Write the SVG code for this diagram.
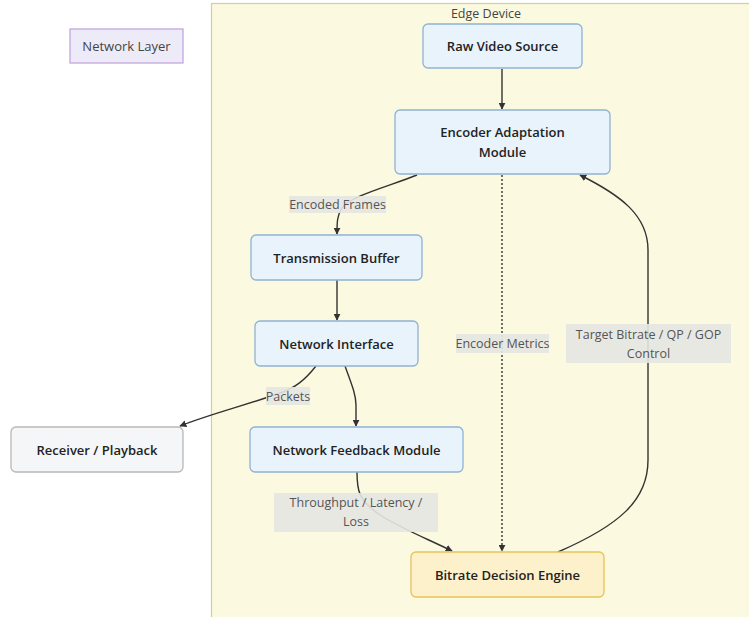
<svg xmlns="http://www.w3.org/2000/svg" width="749" height="617" viewBox="0 0 749 617">
<defs>
<marker id="arr" viewBox="0 0 10 10" refX="9" refY="5" markerWidth="7" markerHeight="7" orient="auto-start-reverse" markerUnits="userSpaceOnUse">
<path d="M0,0 L10,5 L0,10 z" fill="#333"/>
</marker>
<style>
.node rect{fill:#e8f3fc;stroke:#8fb3d3;stroke-width:1.3}
.nt{font-family:"Open Sans","Noto Sans",sans-serif;font-size:13px;font-weight:600;fill:#222;text-anchor:middle;dominant-baseline:central}
.lt{font-family:"Open Sans","Noto Sans",sans-serif;font-size:12.5px;fill:#555;text-anchor:middle;dominant-baseline:central}
.lb{fill:#e6e6e2;opacity:0.9}
.edge{fill:none;stroke:#333;stroke-width:1.4}
</style>
</defs>
<rect width="749" height="617" fill="#ffffff"/>
<g id="cluster-edge-device">
<rect x="211.5" y="3.5" width="560" height="640" fill="#fbf9e0" stroke="#d6d28a" stroke-width="1.2"/>
<text class="lt" x="486" y="13" style="fill:#444">Edge Device</text>
</g>
<g id="network-layer">
<rect x="70" y="29" width="113" height="34" fill="#eeebf8" stroke="#c4a6dc" stroke-width="1.3"/>
<text class="lt" x="126.5" y="46" style="fill:#444;font-size:13px">Network Layer</text>
</g>
<g id="connectors">
<path class="edge" d="M502,69 L502,109" marker-end="url(#arr)"/>
<path class="edge" d="M417,175 C390,186 350,196 342,208 C337,216 337,222 337,234" marker-end="url(#arr)"/>
<path class="edge" d="M337,280 L337,320" marker-end="url(#arr)"/>
<path class="edge" d="M316,366 C305,380 295,388 280,393 C250,404 210,414 180,426" marker-end="url(#arr)"/>
<path class="edge" d="M345,366 C352,385 356,395 356,405 L356,426" marker-end="url(#arr)"/>
<path class="edge" d="M357,472 C357,490 358,500 380,515 C400,528 430,540 452,551" marker-end="url(#arr)"/>
<path class="edge" d="M502,175 L502,551" stroke-dasharray="2,2" marker-end="url(#arr)"/>
<path class="edge" d="M558,552 C620,525 648,500 648,460 L648,250 C648,215 620,195 580,175" marker-end="url(#arr)"/>
<rect class="lb" x="289" y="196" width="97" height="17"/>
<text class="lt" x="337.5" y="204.5">Encoded Frames</text>
<rect class="lb" x="266" y="387" width="44" height="18"/>
<text class="lt" x="288" y="396">Packets</text>
<rect class="lb" x="456" y="334" width="93" height="19"/>
<text class="lt" x="502.5" y="343.5">Encoder Metrics</text>
<rect class="lb" x="566" y="324" width="165" height="39"/>
<text class="lt" x="648.5" y="334">Target Bitrate / QP / GOP</text>
<text class="lt" x="648.5" y="353">Control</text>
<rect class="lb" x="274" y="493" width="164" height="39"/>
<text class="lt" x="356" y="502">Throughput / Latency /</text>
<text class="lt" x="356" y="521">Loss</text>
</g>
<g id="raw-video-source" class="node">
<rect x="423" y="24" width="159" height="44" rx="5"/>
<text class="nt" x="502.5" y="46">Raw Video Source</text>
</g>
<g id="encoder-adaptation-module" class="node">
<rect x="395" y="110" width="215" height="64" rx="5"/>
<text class="nt" x="502.5" y="132">Encoder Adaptation</text>
<text class="nt" x="502.5" y="152">Module</text>
</g>
<g id="transmission-buffer" class="node">
<rect x="251" y="235" width="171" height="45" rx="5"/>
<text class="nt" x="336.5" y="257.5">Transmission Buffer</text>
</g>
<g id="network-interface" class="node">
<rect x="255" y="321" width="163" height="45" rx="5"/>
<text class="nt" x="336.5" y="343.5">Network Interface</text>
</g>
<g id="receiver-playback" class="node">
<rect x="11" y="427" width="172" height="45" rx="5" style="fill:#f4f6f7;stroke:#b8b8b8"/>
<text class="nt" x="97" y="449.5">Receiver / Playback</text>
</g>
<g id="network-feedback-module" class="node">
<rect x="250" y="427" width="213" height="45" rx="5"/>
<text class="nt" x="356.5" y="449.5">Network Feedback Module</text>
</g>
<g id="bitrate-decision-engine" class="node">
<rect x="411" y="552" width="193" height="45" rx="5" style="fill:#fdf1cc;stroke:#e6c356"/>
<text class="nt" x="507.5" y="574.5">Bitrate Decision Engine</text>
</g>
</svg>
